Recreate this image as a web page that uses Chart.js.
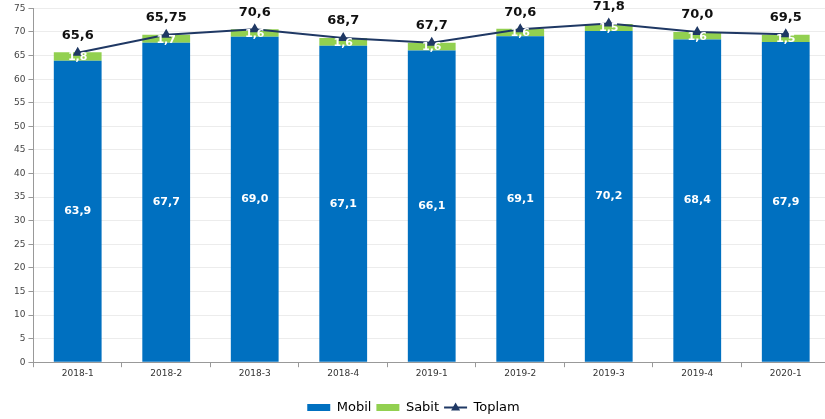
<!DOCTYPE html>
<html>
<head>
<meta charset="utf-8">
<script src="https://cdn.jsdelivr.net/npm/chart.js@4.4.1/dist/chart.umd.min.js"></script>
<style>
  html, body { margin: 0; padding: 0; background: #fff; overflow: hidden; }
  #wrap { width: 836px; height: 419px; }
</style>
</head>
<body>
<div id="wrap"><canvas id="c"></canvas></div>
<script>
// data
const quarters = ["2018-1", "2018-2", "2018-3", "2018-4", "2019-1", "2019-2", "2019-3", "2019-4", "2020-1"];
const mobil = [63.9, 67.7, 69.0, 67.1, 66.1, 69.1, 70.2, 68.4, 67.9];
const sabit = [1.8, 1.7, 1.6, 1.6, 1.6, 1.6, 1.5, 1.6, 1.5];
const toplam = [65.6, 69.4, 70.6, 68.7, 67.7, 70.6, 71.8, 70.0, 69.5];
const toplamLabels = ["65,6", "65,75", "70,6", "68,7", "67,7", "70,6", "71,8", "70,0", "69,5"];

const fmt = (v) => v.toFixed(1).replace(".", ",");
const navy = "#1f3864";

function triangle(ctx, x, y, r) {
  ctx.beginPath();
  ctx.moveTo(x, y - r);
  ctx.lineTo(x + r * 0.9, y + r * 0.6);
  ctx.lineTo(x - r * 0.9, y + r * 0.6);
  ctx.closePath();
  ctx.fill();
}

// value labels + line sample in legend
const labelsPlugin = {
  id: "valueLabels",
  afterLayout(chart) {
    // legend sits a bit left of centre in the original
    chart.legend.left -= 10;
    chart.legend.right -= 10;
  },
  afterDatasetsDraw(chart) {
    const ctx = chart.ctx;
    ctx.save();
    ctx.textAlign = "center";
    ctx.textBaseline = "middle";

    ctx.font = "bold 11px 'DejaVu Sans'";
    ctx.fillStyle = "#fff";
    chart.getDatasetMeta(0).data.forEach((bar, i) => {
      ctx.fillText(fmt(mobil[i]), bar.x, (bar.y + bar.base) / 2);
    });
    chart.getDatasetMeta(1).data.forEach((bar, i) => {
      ctx.fillText(fmt(sabit[i]), bar.x, (bar.y + bar.base) / 2 + 1);
    });

    ctx.font = "bold 13px 'DejaVu Sans'";
    ctx.fillStyle = "#111";
    chart.getDatasetMeta(2).data.forEach((pt, i) => {
      ctx.fillText(toplamLabels[i], pt.x, pt.y - 17);
    });
    ctx.restore();
  },
  afterDraw(chart) {
    const boxes = chart.legend.legendHitBoxes;
    if (!boxes || !boxes[2]) return;
    const b = boxes[2];
    const ctx = chart.ctx;
    const cy = b.top + b.height / 2;
    ctx.save();
    ctx.strokeStyle = navy;
    ctx.fillStyle = navy;
    ctx.lineWidth = 2;
    ctx.beginPath();
    ctx.moveTo(b.left, cy);
    ctx.lineTo(b.left + 23, cy);
    ctx.stroke();
    triangle(ctx, b.left + 11.5, cy, 5);
    ctx.restore();
  },
};

const ctx = document.getElementById("c");
new Chart(ctx, {
  data: {
    labels: quarters,
    datasets: [
      {
        type: "bar",
        label: "Mobil",
        data: mobil,
        backgroundColor: "#0070c0",
        stack: "s",
        barPercentage: 0.54,
        categoryPercentage: 1,
        order: 2,
      },
      {
        type: "bar",
        label: "Sabit",
        data: sabit,
        backgroundColor: "#92d050",
        stack: "s",
        barPercentage: 0.54,
        categoryPercentage: 1,
        order: 2,
      },
      {
        type: "line",
        label: "Toplam",
        data: toplam,
        stack: "t",
        borderColor: navy,
        backgroundColor: navy,
        borderWidth: 2,
        pointStyle: "triangle",
        pointRadius: 4,
        tension: 0,
        order: 1,
      },
    ],
  },
  options: {
    responsive: true,
    maintainAspectRatio: false,
    animation: false,
    layout: { padding: { left: 11, top: 2, right: 0, bottom: -5 } },
    plugins: {
      tooltip: { enabled: false },
      legend: {
        position: "bottom",
        labels: {
          usePointStyle: true,
          boxWidth: 23,
          boxHeight: 7,
          pointStyleWidth: 23,
          padding: 5,
          color: "#333",
          font: { family: "'DejaVu Sans'", size: 13 },
          generateLabels(chart) {
            return chart.data.datasets.map((ds, i) => ({
              text: ds.label,
              fillStyle: i === 2 ? "rgba(0,0,0,0)" : ds.backgroundColor,
              strokeStyle: "rgba(0,0,0,0)",
              lineWidth: 0,
              pointStyle: "rect",
              datasetIndex: i,
              hidden: false,
            }));
          },
        },
      },
    },
    scales: {
      x: {
        stacked: true,
        grid: {
          offset: true,
          drawOnChartArea: false,
          tickLength: 5,
          color: "#999",
        },
        border: { color: "#999" },
        ticks: {
          color: "#333",
          font: { family: "'DejaVu Sans'", size: 9 },
          padding: 1,
        },
        afterFit(scale) {
          scale.height += 16;
        },
      },
      y: {
        stacked: true,
        min: 0,
        max: 75,
        ticks: {
          stepSize: 5,
          color: "#444",
          font: { family: "'DejaVu Sans'", size: 9 },
          padding: 3,
        },
        grid: { color: "#ececec", tickColor: "#999", tickLength: 5 },
        border: { color: "#999" },
      },
    },
  },
  plugins: [labelsPlugin],
});
</script>
</body>
</html>
